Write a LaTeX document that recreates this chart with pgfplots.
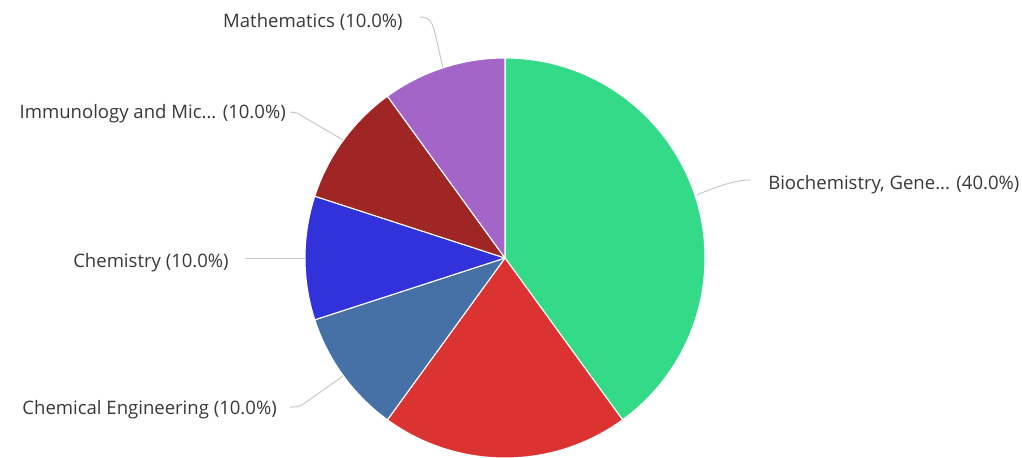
\documentclass[border=0pt]{standalone}
\usepackage{fontspec}
\setmainfont{Open Sans}
\usepackage{pgfplots}
\usepackage{pgfplotstable}
\pgfplotsset{compat=1.18}

\definecolor{lbl}{HTML}{383838}
\definecolor{leader}{HTML}{C8C8C8}

% shares in percent, clockwise from 12 o'clock
\pgfplotstableread[col sep=semicolon]{
name;value;col
Biochemistry;40;33DB88
Other;20;DB3232
ChemEng;10;4571A6
Chemistry;10;3232DB
Immunology;10;A02626
Mathematics;10;A366C8
}\shares

\begin{document}
\begin{tikzpicture}
\begin{axis}[
    scale only axis,
    width=766.5pt, height=342.75pt,
    xmin=0, xmax=1022, ymin=0, ymax=457,
    hide axis,
    clip=false,
  ]
  \pgfplotsextra{
    \pgfplotstablegetrowsof{\shares}
    \pgfmathtruncatemacro\last{\pgfplotsretval-1}
    \xdef\angA{90}
    \foreach \i in {0,...,\last}{
      \pgfplotstablegetelem{\i}{value}\of\shares
      \pgfmathsetmacro\angB{\angA-3.6*\pgfplotsretval}
      \pgfplotstablegetelem{\i}{col}\of\shares
      \edef\tmp{\noexpand\definecolor{slc}{HTML}{\pgfplotsretval}}\tmp
      \fill[slc, draw=white, line width=0.8pt, line join=round]
        (axis cs:505,199) -- ++(\angA:150pt)
        arc[start angle=\angA, end angle=\angB, radius=150pt] -- cycle;
      \xdef\angA{\angB}
    }
  }

  % leader lines
  \draw[leader, line width=0.75pt] (axis cs:697,262) .. controls (axis cs:715,270) and (axis cs:735,277) .. (axis cs:750,277);
  \draw[leader, line width=0.75pt] (axis cs:443,389) -- (axis cs:434,428) .. controls (axis cs:431,437) and (axis cs:428,440) .. (axis cs:420,440);
  \draw[leader, line width=0.75pt] (axis cs:343,317) -- (axis cs:302,341) .. controls (axis cs:298,344) .. (axis cs:290,345);
  \draw[leader, line width=0.75pt] (axis cs:305,199) -- (axis cs:245,199);
  \draw[leader, line width=0.75pt] (axis cs:343,81) -- (axis cs:302,52) .. controls (axis cs:298,50) .. (axis cs:290,50);

  % labels
  \begin{scope}[every node/.style={text=lbl, inner sep=0pt, font=\fontsize{13.9}{16}\selectfont}]
    \node[anchor=west] at (axis cs:768,272) {Biochemistry, Gene... (40.0\%)};
    \node[anchor=east] at (axis cs:403,435) {Mathematics (10.0\%)};
    \node[anchor=east] at (axis cs:286,343) {Immunology and Mic... (10.0\%)};
    \node[anchor=east] at (axis cs:229,194) {Chemistry (10.0\%)};
    \node[anchor=east] at (axis cs:277,47) {Chemical Engineering (10.0\%)};
  \end{scope}
\end{axis}
\pgfresetboundingbox
\path (current axis.south west) rectangle (current axis.north east);
\end{tikzpicture}
\end{document}
